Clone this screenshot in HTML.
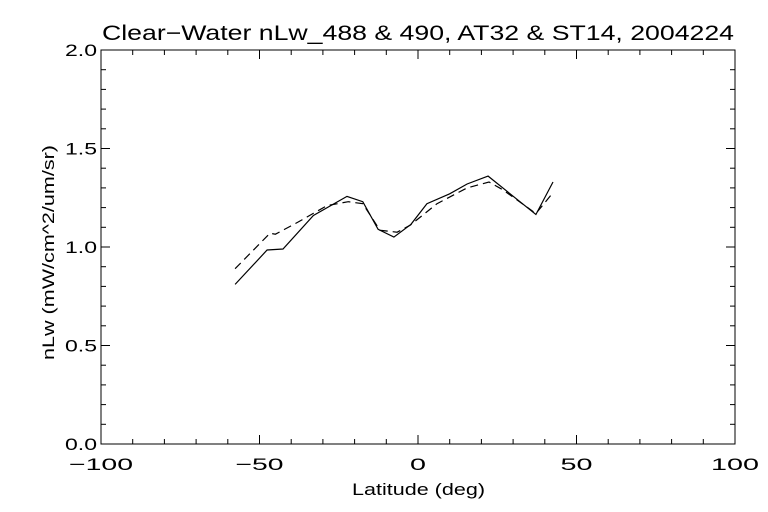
<!DOCTYPE html>
<html><head><meta charset="utf-8"><style>
body{margin:0;background:#fff;}
svg{display:block;font-family:"Liberation Sans",sans-serif;}
</style></head><body>
<svg width="768" height="512" viewBox="0 0 768 512">
<rect width="768" height="512" fill="#fff"/>
<text x="102" y="40" font-size="21" textLength="632" lengthAdjust="spacingAndGlyphs" fill="#000">Clear−Water nLw_488 &amp; 490, AT32 &amp; ST14, 2004224</text>
<text x="352" y="495" font-size="17" textLength="133" lengthAdjust="spacingAndGlyphs">Latitude (deg)</text>
<text transform="translate(54,360) rotate(-90)" font-size="17" textLength="215" lengthAdjust="spacingAndGlyphs">nLw (mW/cm^2/um/sr)</text>
<g id="axes" stroke="#000" stroke-width="1" fill="none"></g>
<g id="ticklabels" font-size="17" fill="#000"></g>
<g id="series" fill="none" stroke="#000" stroke-width="1.2"></g>
</svg>
<script>
const solidLat=[-57.7,-47.6,-42.6,-33,-22.4,-17.4,-12.6,-7.6,-2.2,2.8,10,15.5,22.1,37.2,42.6];
const solidVal=[0.81,0.985,0.99,1.16,1.257,1.23,1.09,1.05,1.115,1.22,1.27,1.32,1.36,1.165,1.33];
const dashLat=[-57.7,-46.7,-45,-38,-28.7,-22,-17.4,-12,-6.6,-2.5,6,15.5,22.4,26.8,37.2,42.3];
const dashVal=[0.89,1.07,1.065,1.125,1.21,1.23,1.22,1.085,1.075,1.11,1.22,1.30,1.33,1.29,1.17,1.27];
const xTicks=[-100,-50,0,50,100];
const yTicks=[0.0,0.5,1.0,1.5,2.0];
const X0=101,X1=735,Y0=444,Y1=50;
const xs=v=>X0+(v+100)/200*(X1-X0);
const ys=v=>Y0-v/2*(Y0-Y1);
const NS='http://www.w3.org/2000/svg';
const axes=document.getElementById('axes'),tl=document.getElementById('ticklabels'),ser=document.getElementById('series');
function mk(tag,attrs,parent){const e=document.createElementNS(NS,tag);for(const k in attrs)e.setAttribute(k,attrs[k]);parent.appendChild(e);return e;}
const frame=mk('rect',{x:X0,y:Y1,width:X1-X0,height:Y0-Y1},axes);


for(let v=-100;v<=100;v+=10){const maj=v%50===0;const L=maj?9:5;
 mk('line',{x1:xs(v),x2:xs(v),y1:Y0,y2:Y0-L},axes);
 mk('line',{x1:xs(v),x2:xs(v),y1:Y1,y2:Y1+L},axes);}
for(let i=0;i<=20;i++){const v=i/10;const maj=i%5===0;const L=maj?9:5;
 mk('line',{x1:X0,x2:X0+L,y1:ys(v),y2:ys(v)},axes);
 mk('line',{x1:X1,x2:X1-L,y1:ys(v),y2:ys(v)},axes);}
xTicks.forEach(v=>{const s=v<0?'−'+Math.abs(v):String(v);const w=s.length*16;
 const t=mk('text',{x:xs(v),y:Y0+26,'text-anchor':'middle',textLength:w,lengthAdjust:'spacingAndGlyphs'},tl);t.textContent=s;
 
 });
yTicks.forEach(v=>{const t=mk('text',{x:X0-4,y:ys(v)+6,'text-anchor':'end',textLength:32,lengthAdjust:'spacingAndGlyphs'},tl);t.textContent=v.toFixed(1);
 
 });
function pts(a,b){return a.map((x,i)=>xs(x).toFixed(1)+','+ys(b[i]).toFixed(1)).join(' ');}
const s=mk('polyline',{points:pts(solidLat,solidVal)},ser);


const d=mk('polyline',{points:pts(dashLat,dashVal),'stroke-dasharray':'8,5'},ser);


</script>
</body></html>
